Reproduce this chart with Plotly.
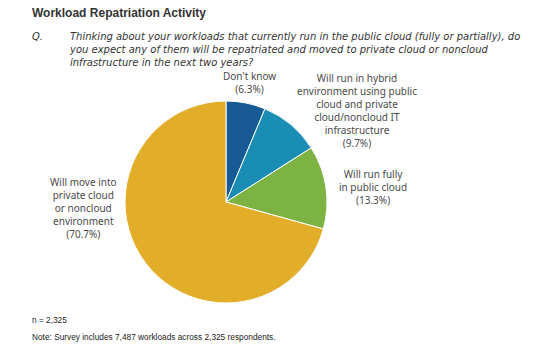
import plotly.graph_objects as go

W, H = 540, 347

categories = ["Don't know", "Will run in hybrid environment using public cloud and private cloud/noncloud IT infrastructure",
              "Will run fully in public cloud", "Will move into private cloud or noncloud environment"]
values = [6.3, 9.7, 13.3, 70.7]
colors = ["#175a96", "#1a8db4", "#7cb342", "#e2ad28"]
label_texts = ["Don't know<br>(6.3%)",
               "Will run in hybrid<br>environment using public<br>cloud and private<br>cloud/noncloud IT<br>infrastructure<br>(9.7%)",
               "Will run fully<br>in public cloud<br>(13.3%)",
               "Will move into<br>private cloud<br>or noncloud<br>environment<br>(70.7%)"]

title = "Workload Repatriation Activity"
question = ("Thinking about your workloads that currently run in the public cloud (fully or partially), do<br>"
            "you expect any of them will be repatriated and moved to private cloud or noncloud<br>"
            "infrastructure in the next two years?")
n_text = "n = 2,325"
note_text = "Note: Survey includes 7,487 workloads across 2,325 respondents."

def px(x):
    return x / W

def py(y):
    return 1 - y / H

cx, cy, r = 226, 202, 101

fig = go.Figure(go.Pie(
    labels=categories, values=values, sort=False, direction="clockwise", rotation=0,
    marker=dict(colors=colors, line=dict(color="white", width=1)),
    textinfo="none", hoverinfo="label+percent", showlegend=False,
    domain=dict(x=[px(cx - r), px(cx + r)], y=[py(cy + r), py(cy - r)]),
))

label_font = dict(family="Noto Sans", size=10, color="#4a4a4a")
label_pos = [(249, 82), (357, 110), (373, 187), (83, 208)]
anns = []
for t, (x, y) in zip(label_texts, label_pos):
    anns.append(dict(x=px(x), y=py(y), xref="paper", yref="paper", text=t, showarrow=False,
                     xanchor="center", yanchor="middle", align="center", font=label_font))

anns.append(dict(x=px(30), y=py(13), xref="paper", yref="paper", text="<b>" + title + "</b>", showarrow=False,
                 xanchor="left", yanchor="middle", font=dict(family="Liberation Sans", size=12, color="#333333")))
anns.append(dict(x=px(30), y=py(36), xref="paper", yref="paper", text="<i>Q.</i>", showarrow=False,
                 xanchor="left", yanchor="middle", font=dict(family="DejaVu Sans", size=10, color="#333333")))
anns.append(dict(x=px(67), y=py(49), xref="paper", yref="paper", text="<i>" + question + "</i>", showarrow=False,
                 xanchor="left", yanchor="middle", align="left", font=dict(family="DejaVu Sans", size=10, color="#333333")))
anns.append(dict(x=px(30), y=py(320), xref="paper", yref="paper", text=n_text, showarrow=False,
                 xanchor="left", yanchor="middle", font=dict(family="Liberation Sans", size=8.3, color="#222222")))
anns.append(dict(x=px(30), y=py(337), xref="paper", yref="paper", text=note_text, showarrow=False,
                 xanchor="left", yanchor="middle", font=dict(family="Liberation Sans", size=8.3, color="#222222")))

fig.update_layout(width=W, height=H, margin=dict(l=0, r=0, t=0, b=0),
                  paper_bgcolor="white", plot_bgcolor="white", annotations=anns)

fig.write_html("out.html")
